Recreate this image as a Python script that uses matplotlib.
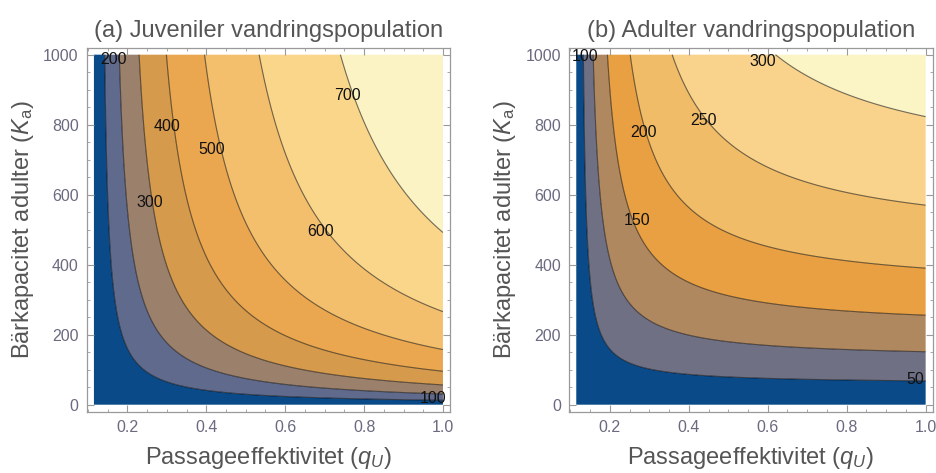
import numpy as np
import matplotlib
matplotlib.use("Agg")
import matplotlib.pyplot as plt

# --- model parameters (equilibrium population vs. passage efficiency and adult capacity)
q_threshold = 0.115      # passage efficiency below which the population collapses
adult_max = 617.0        # asymptotic adult run size
adult_half_K = 675.0     # adult capacity giving half the asymptotic run
juv_scale = 356.0        # juvenile production scale
juv_half = 30.0          # spawner number setting juvenile curvature
juv_density = 0.30       # density-dependent loss per spawner

q_range = [0.115, 1.0]
K_range = [0.0, 1000.0]

juv_levels = [100, 200, 300, 400, 500, 600, 700]
adult_levels = [50, 100, 150, 200, 250, 300]

x_ticks = [0.2, 0.4, 0.6, 0.8, 1.0]
x_ticklabels = ["0.2", "0.4", "0.6", "0.8", "1.0"]
y_ticks = [0, 200, 400, 600, 800, 1000]
y_ticklabels = ["0", "200", "400", "600", "800", "1000"]

titles = ["(a) Juveniler vandringspopulation", "(b) Adulter vandringspopulation"]
xlabel = r"Passageeffektivitet ($q_U$)"
ylabel = r"Bärkapacitet adulter ($K_\mathrm{a}$)"

# where each contour label sits (data coordinates), one per level
juv_label_pos = [(0.975, 17), (0.164, 986), (0.257, 578), (0.301, 795),
                 (0.413, 730), (0.69, 496), (0.758, 884)]
adult_label_pos = [(0.974, 71), (0.138, 995), (0.268, 527), (0.285, 779),
                   (0.438, 813), (0.587, 981)]

juv_colors = ["#0a4a88", "#5f6a8c", "#9b806b", "#d59a4c", "#eaa74f",
              "#f3bf6d", "#fad68b", "#fbf3c4"]
adult_colors = ["#0a4a88", "#6f7084", "#b0885f", "#e8a042", "#f0bc67",
                "#f9d38b", "#fbf4c4"]


def adults(q, K):
    return adult_max * K / (K + adult_half_K) * np.clip(1.0 - q_threshold / q, 0.0, None)


def juveniles(q, K):
    spawners = q * adults(q, K)
    return juv_scale * np.log1p(spawners / juv_half) - juv_density * spawners


plt.rcParams["font.family"] = ["Liberation Sans", "DejaVu Sans"]
plt.rcParams["mathtext.fontset"] = "custom"
plt.rcParams["mathtext.rm"] = "Liberation Sans"
plt.rcParams["mathtext.it"] = "Liberation Sans:italic"

q = np.linspace(q_range[0], q_range[1], 700)
K = np.linspace(K_range[0], K_range[1], 700)
Q, KK = np.meshgrid(q, K)

fields = [juveniles(Q, KK), adults(Q, KK)]
levels = [juv_levels, adult_levels]
colors = [juv_colors, adult_colors]
label_pos = [juv_label_pos, adult_label_pos]

fig = plt.figure(figsize=(9.36, 4.73), dpi=100)
axes = [fig.add_axes([0.0929, 0.1296, 0.3878, 0.7696]),
        fig.add_axes([0.6082, 0.1296, 0.3882, 0.7696])]

frame_col = "#9a9a9a"
tick_col = "#6a6a80"
text_col = "#555555"

pad_q = 0.02 * (q_range[1] - q_range[0])
pad_K = 0.02 * (K_range[1] - K_range[0])

for ax, Z, lv, cols, pos, title in zip(axes, fields, levels, colors, label_pos, titles):
    bounds = [-1.0] + list(lv) + [1e6]
    ax.contourf(Q, KK, Z, levels=bounds, colors=cols, antialiased=True)
    ax.contour(Q, KK, Z, levels=lv, colors="black", linewidths=0.8, alpha=0.55)
    for level, (px, py) in zip(lv, pos):
        ax.text(px, py, f"{level:d}", ha="center", va="center", fontsize=11.5,
                color="#111111", zorder=5)

    ax.set_xlim(q_range[0] - pad_q, q_range[1] + pad_q)
    ax.set_ylim(K_range[0] - pad_K, K_range[1] + pad_K)
    ax.set_xticks(x_ticks)
    ax.set_xticklabels(x_ticklabels)
    ax.set_yticks(y_ticks)
    ax.set_yticklabels(y_ticklabels)
    ax.set_xticks(np.arange(0.1, 1.001, 0.05), minor=True)
    ax.set_yticks(np.arange(0, 1001, 50), minor=True)
    ax.tick_params(which="both", direction="in", top=True, right=True,
                   color=frame_col, labelcolor=tick_col, labelsize=11.5)
    ax.tick_params(which="major", length=5, width=0.8, pad=6)
    ax.tick_params(which="minor", length=2.5, width=0.6)
    for s in ax.spines.values():
        s.set_color(frame_col)
        s.set_linewidth(0.9)
    ax.set_title(title, fontsize=17, color=text_col, pad=8)
    ax.set_xlabel(xlabel, fontsize=17, color=text_col, labelpad=7)
    ax.set_ylabel(ylabel, fontsize=17, color=text_col, labelpad=5)

fig.savefig("out.png", dpi=100)
